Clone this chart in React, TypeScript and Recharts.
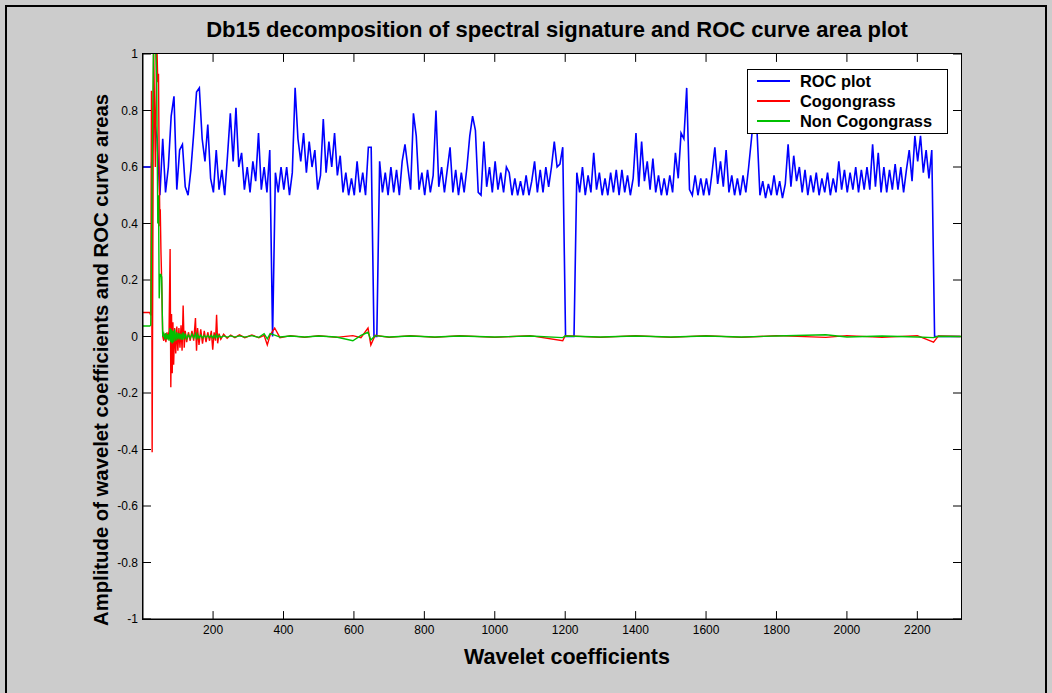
import { LineChart, Line, XAxis, YAxis, Legend, ReferenceLine } from "recharts"

// ROC curve area, one sample every 8 coefficients (starting at coefficient 1)
const ROC = [
  0.60, 0.60, 0.60, 0.60, 0.77, 0.70, 0.50, 0.70, 0.51, 0.60, 0.78, 0.85, 0.52, 0.66, 0.68, 0.53, 0.50, 0.59, 0.72, 0.865, 0.88, 0.70, 0.62, 0.75, 0.56,
  0.51, 0.66, 0.52, 0.59, 0.50, 0.64, 0.79, 0.62, 0.81, 0.60, 0.65, 0.52, 0.60, 0.51, 0.62, 0.55, 0.72, 0.52, 0.60, 0.51, 0.66, 0.00, 0.58, 0.51, 0.60,
  0.52, 0.60, 0.50, 0.58, 0.88, 0.70, 0.62, 0.72, 0.58, 0.69, 0.60, 0.66, 0.52, 0.57, 0.77, 0.58, 0.69, 0.60, 0.72, 0.57, 0.64, 0.51, 0.58, 0.50, 0.56,
  0.50, 0.62, 0.51, 0.58, 0.50, 0.67, 0.67, 0.00, 0.00, 0.62, 0.51, 0.58, 0.50, 0.60, 0.51, 0.59, 0.50, 0.62, 0.68, 0.60, 0.52, 0.79, 0.71, 0.52, 0.58,
  0.50, 0.59, 0.51, 0.57, 0.80, 0.53, 0.60, 0.51, 0.59, 0.67, 0.51, 0.59, 0.50, 0.58, 0.51, 0.60, 0.71, 0.78, 0.73, 0.51, 0.50, 0.69, 0.53, 0.60, 0.51,
  0.62, 0.52, 0.58, 0.51, 0.60, 0.58, 0.50, 0.56, 0.50, 0.55, 0.50, 0.57, 0.50, 0.55, 0.62, 0.51, 0.59, 0.51, 0.60, 0.53, 0.60, 0.69, 0.60, 0.61, 0.67,
  0.00, 0.00, 0.00, 0.00, 0.58, 0.51, 0.60, 0.50, 0.57, 0.51, 0.65, 0.52, 0.58, 0.50, 0.56, 0.50, 0.58, 0.51, 0.59, 0.50, 0.59, 0.51, 0.57, 0.50, 0.56,
  0.72, 0.53, 0.69, 0.55, 0.62, 0.52, 0.63, 0.51, 0.57, 0.50, 0.56, 0.50, 0.57, 0.51, 0.65, 0.56, 0.72, 0.70, 0.88, 0.52, 0.50, 0.57, 0.50, 0.56, 0.50,
  0.56, 0.50, 0.58, 0.67, 0.54, 0.62, 0.53, 0.66, 0.51, 0.57, 0.50, 0.56, 0.50, 0.57, 0.51, 0.60, 0.70, 0.80, 0.72, 0.50, 0.55, 0.49, 0.54, 0.50, 0.57,
  0.50, 0.55, 0.49, 0.54, 0.68, 0.53, 0.64, 0.55, 0.60, 0.51, 0.59, 0.50, 0.57, 0.51, 0.58, 0.50, 0.56, 0.51, 0.58, 0.50, 0.56, 0.51, 0.62, 0.52, 0.59,
  0.51, 0.58, 0.52, 0.60, 0.51, 0.59, 0.52, 0.60, 0.52, 0.68, 0.53, 0.65, 0.51, 0.60, 0.51, 0.59, 0.52, 0.61, 0.52, 0.60, 0.51, 0.59, 0.66, 0.55, 0.71,
  0.62, 0.71, 0.58, 0.66, 0.56, 0.66, 0.00, 0.00, 0.00, 0.00, 0.00, 0.00, 0.00, 0.00, 0.00, 0.00,
]
const ROC_X = ROC.map((_, i) => 1 + 8 * i)

// wavelet coefficient index for the two spectral signatures
const COEF_X = [
  1, 10, 20, 23, 25, 27, 31, 36, 40, 43,
  45, 47, 49, 50, 52, 54, 57, 60, 63, 66,
  69, 72, 75, 78, 80, 82, 84, 86, 88, 91,
  94, 97, 100, 103, 106, 109, 112, 115, 118, 121,
  125, 130, 135, 140, 145, 150, 153, 156, 160, 165,
  170, 175, 180, 185, 190, 195, 199, 203, 207, 210,
  213, 217, 222, 230, 240, 250, 262, 275, 290, 310,
  330, 345, 354, 362, 375, 390, 420, 460, 500, 550,
  597, 620, 640, 648, 660, 700, 760, 830, 900, 1000,
  1100, 1193, 1200, 1300, 1400, 1500, 1600, 1700, 1800, 1940,
  2000, 2100, 2200, 2246, 2260, 2324,
]

const COGONGRASS = [
  0.085, 0.085, 0.085, 0.075, 0.87, -0.41, 1.05, 0.6, 1.05, 0.9,
  0.93, 0.6, 0.39, 0.45, 0.3, 0.2, 0.0, -0.015, 0.01, -0.02,
  0.015, -0.01, 0.02, 0.31, -0.18, 0.08, -0.13, 0.05, -0.1, 0.03,
  -0.06, 0.035, -0.05, 0.03, -0.04, 0.04, -0.05, 0.11, -0.04, 0.02,
  -0.02, 0.015, -0.015, 0.02, -0.015, 0.065, -0.05, 0.03, -0.03, 0.025,
  -0.025, 0.02, -0.02, 0.015, -0.015, 0.02, -0.047, 0.015, -0.015, 0.077,
  -0.024, 0.01, -0.01, 0.008, -0.006, 0.005, -0.004, 0.006, -0.004, 0.005,
  -0.004, 0.004, -0.03, 0.005, 0.03, -0.004, 0.003, -0.003, 0.003, -0.003,
  0.003, -0.004, 0.03, -0.03, 0.004, -0.003, 0.003, -0.003, 0.003, -0.003,
  0.003, -0.015, 0.003, -0.003, 0.003, -0.003, 0.003, -0.003, 0.003, -0.003,
  0.003, -0.003, 0.003, -0.02, 0.002, 0,
]

const NON_COGONGRASS = [
  0.037, 0.037, 0.037, 0.04, 0.3, 0.6, 1.05, 1.05, 0.9, 0.4,
  0.5, 0.135, 0.2, 0.22, 0.22, 0.21, 0.0, 0.01, -0.01, 0.012,
  -0.01, 0.008, -0.015, 0.03, -0.02, 0.025, -0.025, 0.02, -0.02, 0.025,
  -0.015, 0.015, -0.01, 0.012, -0.01, 0.01, -0.012, 0.015, -0.01, 0.01,
  -0.008, 0.006, -0.006, 0.008, -0.005, 0.01, -0.01, 0.008, -0.006, 0.005,
  -0.005, 0.004, -0.004, 0.004, -0.004, 0.004, -0.005, 0.004, -0.004, 0.006,
  -0.004, 0.003, -0.003, 0.002, -0.002, 0.002, -0.002, 0.002, -0.002, 0.003,
  -0.003, 0.01, -0.008, 0.01, 0.005, -0.002, 0.002, -0.002, 0.002, -0.002,
  -0.015, 0.004, 0.015, -0.012, 0.003, -0.002, 0.002, -0.002, 0.002, -0.002,
  0.002, -0.004, 0.002, -0.002, 0.002, -0.002, 0.002, -0.002, 0.002, 0.006,
  -0.002, 0.002, -0.002, -0.004, 0.001, 0,
]

const X_TICKS = [200, 400, 600, 800, 1000, 1200, 1400, 1600, 1800, 2000, 2200]
const Y_TICKS = [-1, -0.8, -0.6, -0.4, -0.2, 0, 0.2, 0.4, 0.6, 0.8, 1]
const X_MIN = 1
const X_MAX = 2324
// inward tick length (8px) expressed in axis units
const TICK_DX = 22.7
const TICK_DY = 0.028

const SERIES = [
  { name: "ROC plot", color: "#0000ff" },
  { name: "Cogongrass", color: "#ff0000" },
  { name: "Non Cogongrass", color: "#00c000" },
]

const rocData = ROC.map((y, i) => ({ x: ROC_X[i], y }))
const cogData = COEF_X.map((x, i) => ({ x, y: COGONGRASS[i] }))
const nonData = COEF_X.map((x, i) => ({ x, y: NON_COGONGRASS[i] }))

const FONT = "'Liberation Sans', Arial, Helvetica, sans-serif"

function BottomTick({ x, y, payload }: any) {
  return (
    <text x={x} y={y + 15} textAnchor="middle" fontSize={12} fill="#000" fontFamily={FONT}>
      {payload.value}
    </text>
  )
}

function LeftTick({ x, y, payload }: any) {
  return (
    <text x={x - 5} y={y + 4.3} textAnchor="end" fontSize={12} fill="#000" fontFamily={FONT}>
      {payload.value}
    </text>
  )
}

function LegendBox() {
  return (
    <svg width={201} height={65} style={{ display: "block" }}>
      <rect x={0.5} y={0.5} width={200} height={64} fill="#fff" stroke="#000" />
      {SERIES.map((s, i) => (
        <g key={s.name}>
          <line x1={10} x2={43} y1={12 + i * 20} y2={12 + i * 20} stroke={s.color} strokeWidth={2} />
          <text x={53} y={18 + i * 20} fontSize={16.4} fontWeight="bold" fill="#000" fontFamily={FONT}>
            {s.name}
          </text>
        </g>
      ))}
    </svg>
  )
}

export default function App() {
  return (
    <div
      style={{
        position: "fixed",
        left: 0,
        top: 0,
        width: 1052,
        height: 693,
        overflow: "hidden",
        background: "#cccccc",
        fontFamily: FONT,
      }}
    >
      {/* figure frame, its bottom edge falls outside the picture */}
      <div style={{ position: "absolute", left: 5, top: 5, width: 1042, height: 710, border: "2px solid #000", boxSizing: "border-box" }} />
      {/* axes box */}
      <div
        style={{
          position: "absolute",
          left: 142,
          top: 53,
          width: 820,
          height: 567,
          background: "#ffffff",
          border: "1px solid #000",
          boxSizing: "border-box",
        }}
      />
      <div style={{ position: "absolute", left: 0, top: 0 }}>
        <LineChart width={1052} height={693} margin={{ top: 54, right: 91, bottom: 44, left: 93 }}>
          <XAxis
            dataKey="x"
            type="number"
            domain={[X_MIN, X_MAX]}
            ticks={X_TICKS}
            interval={0}
            allowDataOverflow
            height={30}
            tickSize={0}
            tickMargin={0}
            tickLine={false}
            tick={<BottomTick />}
            axisLine={{ stroke: "#000" }}
          />
          <YAxis
            type="number"
            domain={[-1, 1]}
            ticks={Y_TICKS}
            interval={0}
            allowDataOverflow
            width={50}
            tickSize={0}
            tickMargin={0}
            tickLine={false}
            tick={<LeftTick />}
            axisLine={{ stroke: "#000" }}
          />
          {X_TICKS.map((t) => (
            <ReferenceLine key={`b${t}`} segment={[{ x: t, y: -1 }, { x: t, y: -1 + TICK_DY }]} stroke="#000" strokeWidth={1} />
          ))}
          {X_TICKS.map((t) => (
            <ReferenceLine key={`t${t}`} segment={[{ x: t, y: 1 }, { x: t, y: 1 - TICK_DY }]} stroke="#000" strokeWidth={1} />
          ))}
          {Y_TICKS.map((t) => (
            <ReferenceLine key={`l${t}`} segment={[{ x: X_MIN, y: t }, { x: X_MIN + TICK_DX, y: t }]} stroke="#000" strokeWidth={1} />
          ))}
          {Y_TICKS.map((t) => (
            <ReferenceLine key={`r${t}`} segment={[{ x: X_MAX, y: t }, { x: X_MAX - TICK_DX, y: t }]} stroke="#000" strokeWidth={1} />
          ))}
          <Legend
            layout="horizontal"
            verticalAlign="middle"
            align="center"
            wrapperStyle={{ left: 747, top: 69, width: 201, height: 65 }}
            content={() => <LegendBox />}
          />
          <Line data={rocData} dataKey="y" name="ROC plot" type="linear" stroke="#0000ff" strokeWidth={1.6} dot={false} activeDot={false} isAnimationActive={false} />
          <Line data={cogData} dataKey="y" name="Cogongrass" type="linear" stroke="#ff0000" strokeWidth={1.4} dot={false} activeDot={false} isAnimationActive={false} />
          <Line data={nonData} dataKey="y" name="Non Cogongrass" type="linear" stroke="#00c000" strokeWidth={1.4} dot={false} activeDot={false} isAnimationActive={false} />
        </LineChart>
      </div>
      <svg width={1052} height={693} style={{ position: "absolute", left: 0, top: 0, pointerEvents: "none" }}>
        <text x={557} y={37} textAnchor="middle" fontSize={22} fontWeight="bold" fill="#000" fontFamily={FONT}>
          Db15 decomposition of spectral signature and ROC curve area plot
        </text>
        <text x={567} y={664} textAnchor="middle" fontSize={21.5} fontWeight="bold" fill="#000" fontFamily={FONT}>
          Wavelet coefficients
        </text>
        <text transform="translate(108,360) rotate(-90)" textAnchor="middle" fontSize={20.3} fontWeight="bold" fill="#000" fontFamily={FONT}>
          Amplitude of wavelet coefficients and ROC curve areas
        </text>
      </svg>
    </div>
  )
}
